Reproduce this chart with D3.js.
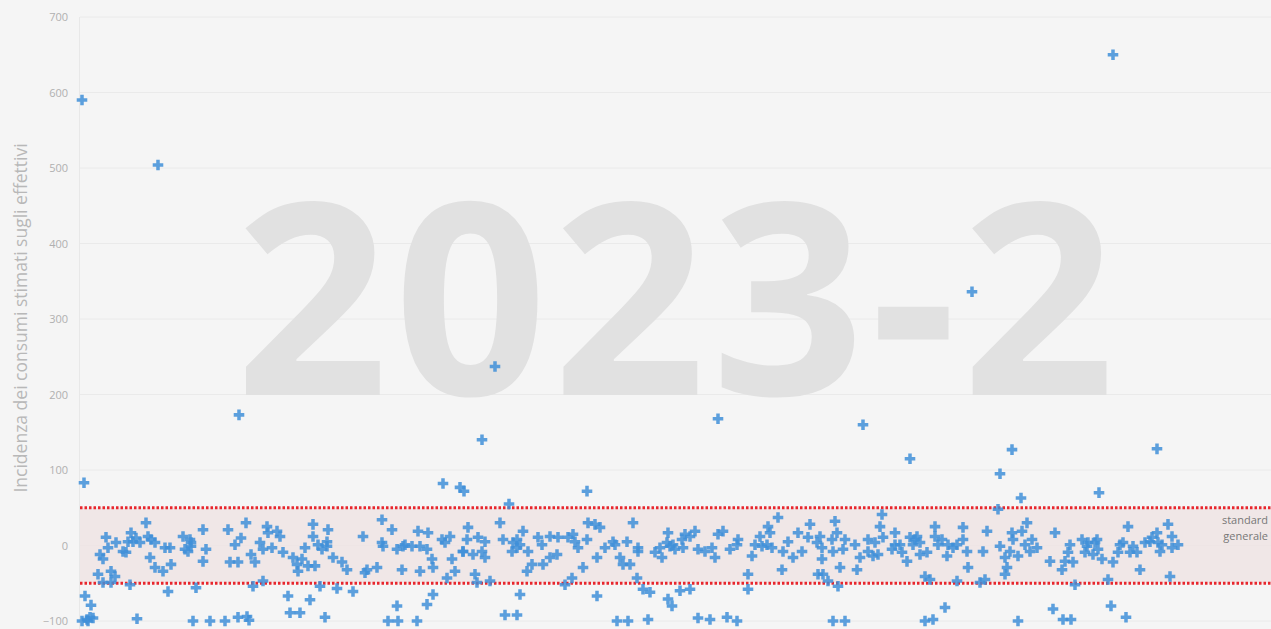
<!DOCTYPE html>
<html>
<head>
<meta charset="utf-8">
<script src="https://cdn.jsdelivr.net/npm/d3@7"></script>
<style>
  html, body { margin: 0; padding: 0; background: #f5f5f5; }
  svg { display: block; }
</style>
</head>
<body>
<svg id="chart" width="1271" height="629"></svg>
<script>
// ---- DATA ----
const yTicks = [-100, 0, 100, 200, 300, 400, 500, 600, 700];
const bandLimits = [-50, 50];
const watermark = "2023-2";
const yTitle = "Incidenza dei consumi stimati sugli effettivi";
const bandLabel = ["standard", "generale"];

// sequence position of each meter (0..1191) and its incidence (%)
const positions = [
  2,4,78,159,363,380,384,402,415,429,507,638,783,830,892,918,920,932,941,1019,1033,1077,
  2,7,10,11,57,113,130,145,158,167,169,208,210,220,230,245,257,273,308,318,317,337,347,353,425,437,440,517,537,548,563,568,570,588,592,600,610,618,630,647,657,668,753,765,845,853,865,938,973,983,991,1031,1046,
  5,8,13,18,20,23,23,26,28,31,31,35,36,43,46,48,50,51,53,56,60,66,68,70,71,75,75,83,85,88,90,91,103,105,108,110,111,111,116,123,123,126,148,150,155,158,161,166,171,173,175,180,183,183,
  187,188,192,197,200,203,213,217,218,222,225,228,233,233,235,238,240,242,247,248,247,253,262,267,283,285,287,297,302,302,303,312,317,322,323,325,332,338,340,340,347,348,352,353,362,365,367,370,
  372,375,383,383,387,388,393,395,397,398,402,405,405,410,420,423,432,433,437,437,440,443,447,448,452,458,462,463,470,470,477,478,485,488,492,493,495,498,503,507,508,515,517,520,525,533,535,540,543,547,550,553,557,
  558,558,575,580,582,587,588,590,593,595,602,603,605,610,615,618,625,632,635,638,643,650,657,658,668,672,675,680,682,687,688,690,692,698,702,703,708,713,718,722,728,730,737,738,742,
  740,742,743,748,752,753,755,757,758,760,763,765,775,777,780,788,788,793,795,798,800,802,803,812,815,815,820,822,827,830,833,835,837,840,840,845,847,850,855,855,858,862,867,868,873,877,877,883,883,887,888,900,903,905,907,920,925,927,
  925,930,932,933,938,942,945,947,950,952,957,970,975,982,985,988,990,993,995,1002,1005,1007,1008,1013,1015,1017,1018,1022,1028,1033,1038,1040,1043,1048,1050,1053,1057,1060,1065,1070,1072,1077,1078,1080,1082,1088,1090,1092,1092,1098
];
const values = [
  590,83,504,173,82,77,72,140,237,55,72,168,160,115,336,48,95,127,63,70,650,128,
  -100,-98,-95,-79,-97,-100,-100,-100,-95,-94,-99,-67,-89,-89,-72,-95,-57,-61,-100,-100,-80,-100,-78,-65,-92,-92,-65,-67,-100,-100,-58,-98,-62,-71,-80,-60,-58,-96,-98,-95,-100,-58,-100,-100,-100,-98,-82,-100,-84,-98,-98,-80,-95,-67,-100,-96,
  -38,-12,-18,-49,11,-3,-34,-49,-41,4,-8,-9,5,-52,17,5,10,4,30,12,-16,8,-29,4,-34,-3,-61,-3,-25,12,-5,-8,8,4,-1,-56,21,-21,-5,21,-22,1,-22,10,30,-12,-54,-22,4,-5,-47,25,17,-3,
  19,12,-9,-16,-25,-34,-18,-3,-27,28,12,-27,1,-54,-5,-1,21,5,-16,-22,-32,12,-36,-32,-29,4,34,-1,21,-5,-32,-1,1,-1,19,-34,-1,-5,17,-18,-29,8,4,-43,12,-18,-34,-8,
  -8,8,24,-12,-38,-49,11,-8,5,-16,-47,30,8,-8,4,-3,8,1,19,-34,-8,-25,11,1,-25,12,-16,-12,11,-52,11,-43,15,5,-3,-29,8,30,28,-16,24,-3,5,1,-16,-25,5,-25,30,-43,-3,-8,-9,
  -3,-16,4,17,-1,1,-5,8,-3,15,12,19,-5,-8,-3,-16,15,19,-5,1,8,-38,-14,1,12,-1,1,25,17,-3,37,-32,-8,5,-16,17,-8,11,28,4,-38,-18,12,-3,-38,
  -47,8,-8,32,17,-54,-29,-5,8,1,-32,-16,-8,8,-14,4,-12,25,41,11,-5,17,1,1,-9,-21,11,1,8,12,-12,4,-41,-9,-45,25,12,1,8,-14,1,-3,1,-47,8,24,-8,-29,-49,-8,-45,19,-1,-38,-29,-16,-8,17,
  8,-14,19,1,30,-8,8,-3,-21,17,-32,-21,-9,1,-22,-52,8,-9,-1,4,-12,4,8,-5,-18,-45,-22,-9,1,4,25,-9,-1,-9,-32,4,5,11,17,4,-8,1,28,-41,-3,12,1,-16,-27,1
];

// ---- CHART ----
const W = 1271, H = 629;
const svg = d3.select("#chart");
const mL = 80, mR = 1271, mT = 17, mB = 621;

const x = d3.scaleLinear().domain([0, 1191]).range([mL, mR]);
const y = d3.scaleLinear().domain([-100, 700]).range([mB, mT]);

svg.append("rect").attr("x", 0).attr("y", 0).attr("width", W).attr("height", H).attr("fill", "#f5f5f5");

// gridlines
svg.append("g").selectAll("line").data(yTicks).join("line")
  .attr("x1", mL).attr("x2", mR)
  .attr("y1", d => y(d)).attr("y2", d => y(d))
  .attr("stroke", "#eaeaea").attr("stroke-width", 1);

svg.append("line").attr("x1", mL - 0.5).attr("x2", mL - 0.5)
  .attr("y1", mT).attr("y2", H).attr("stroke", "#e8e8e8");

// watermark
svg.append("text")
  .attr("x", 678).attr("y", 395)
  .attr("text-anchor", "middle")
  .attr("font-family", "'Open Sans', sans-serif")
  .attr("font-weight", 700)
  .attr("font-size", 268)
  .attr("letter-spacing", 5.5)
  .attr("fill", "#e1e1e1")
  .text(watermark);

// band
svg.append("rect")
  .attr("x", mL).attr("width", mR - mL)
  .attr("y", y(bandLimits[1])).attr("height", y(bandLimits[0]) - y(bandLimits[1]))
  .attr("fill", "#efe4e4").attr("opacity", 0.85);

svg.append("g").selectAll("line").data(bandLimits).join("line")
  .attr("x1", mL).attr("x2", mR)
  .attr("y1", d => y(d)).attr("y2", d => y(d))
  .attr("stroke", "#e8262d").attr("stroke-width", 3)
  .attr("stroke-dasharray", "2.5,2");

// axis labels
const yAxis = d3.axisLeft(y).tickValues(yTicks).tickSize(0).tickPadding(10);
const ga = svg.append("g").attr("transform", `translate(${mL - 2},0)`).call(yAxis);
ga.select(".domain").remove();
ga.selectAll("text")
  .attr("font-family", "'Open Sans', sans-serif")
  .attr("font-size", 11)
  .attr("fill", "#b0b0b0");

svg.append("text")
  .attr("transform", `translate(27,318) rotate(-90)`)
  .attr("text-anchor", "middle")
  .attr("font-family", "'Open Sans', sans-serif")
  .attr("font-size", 17.5)
  .attr("fill", "#b8b8b8")
  .text(yTitle);

// band label
svg.append("g").selectAll("text").data(bandLabel).join("text")
  .attr("x", 1268).attr("y", (d, i) => y(0) - 22 + i * 16)
  .attr("text-anchor", "end")
  .attr("font-family", "'Open Sans', sans-serif")
  .attr("font-size", 11)
  .attr("fill", "#777")
  .text(d => d);

// points
const n = Math.min(positions.length, values.length);
const pts = d3.range(n).map(i => ({ p: positions[i], v: values[i] }));
const cross = d3.symbol().type(d3.symbolCross).size(62);
svg.append("g").selectAll("path").data(pts).join("path")
  .attr("transform", d => `translate(${x(d.p)},${y(d.v)})`)
  .attr("d", cross)
  .attr("fill", "#3f8fd8")
  .attr("fill-opacity", 0.85);
</script>
</body>
</html>
